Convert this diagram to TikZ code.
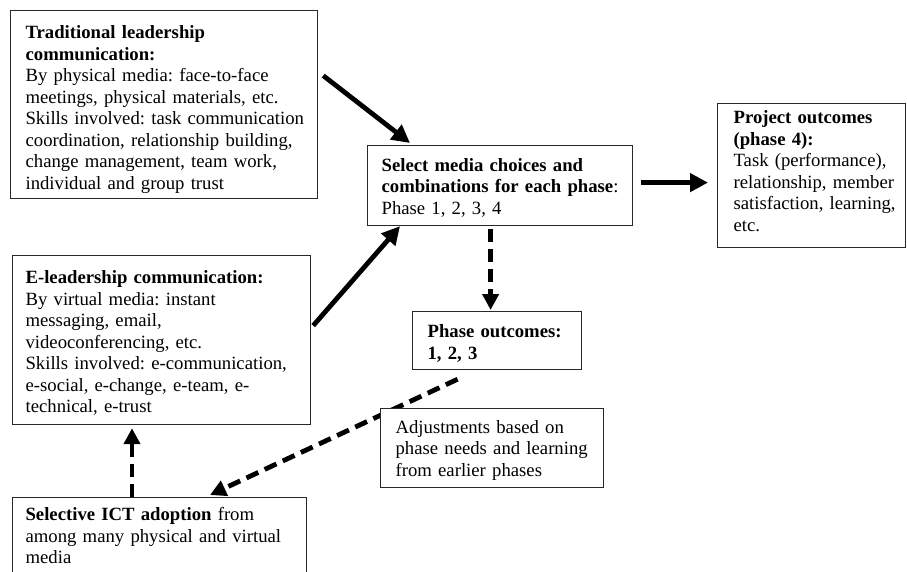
\documentclass[tikz,border=0pt]{standalone}
\usepackage{fontspec}
\setmainfont{Liberation Serif}
\usepackage{tikz}
\usetikzlibrary{arrows.meta}
\definecolor{box_gray}{RGB}{40,40,40}
\frenchspacing
\hyphenpenalty=10000
\exhyphenpenalty=10000
\newcommand\lift[1]{\rule{0pt}{#1}}
\newcommand\sink[1]{\rule[-#1]{0pt}{0pt}}

\begin{document}
\begin{tikzpicture}[x=1pt,y=-1pt]
    \tikzstyle{box}=[draw=box_gray, line width=1.2pt, fill=white, anchor=north west, align=left, inner ysep=3pt, font=\fontsize{18.7}{21.5}\selectfont]
    \tikzstyle{mainflow}=[-{Triangle[length=18pt,width=18pt]}, line width=4.8pt]
    \tikzstyle{phaseflow}=[-{Triangle[length=16pt,width=16pt]}, line width=4.8pt, dash pattern=on 13pt off 7pt]
    \useasboundingbox (0,0) rectangle (907,571);

    \node[box, inner xsep=15pt, text width=277pt, minimum width=307pt, minimum height=188pt] (A) at (10,10)
      {\lift{23pt}\textbf{Traditional leadership}\\ \textbf{communication:}\\ By physical media: face-to-face\\ meetings, physical materials, etc.\\ \mbox{Skills involved: task communication}\\ \mbox{coordination, relationship building,}\\ change management, team work,\\ individual and group trust};
    \node[box, inner xsep=14pt, text width=237pt, minimum width=265pt, minimum height=80pt] (B) at (367,145)
      {\lift{17pt}\textbf{Select media choices and}\\ \mbox{\textbf{combinations for each phase}:}\\ Phase 1, 2, 3, 4};
    \node[box, inner xsep=16pt, text width=156pt, minimum width=188pt, minimum height=144pt] (C) at (717,103)
      {\textbf{Project outcomes}\\ \textbf{(phase 4):}\\ Task (performance),\\ \mbox{relationship, member}\\ \mbox{satisfaction, learning,}\\ etc.\sink{9pt}};
    \node[box, inner xsep=13pt, text width=272pt, minimum width=298pt, minimum height=169pt] (D) at (12,255)
      {\lift{19pt}\textbf{E-leadership communication:}\\ By virtual media: instant\\ messaging, email,\\ videoconferencing, etc.\\ \mbox{Skills involved: e-communication,}\\ e-social, e-change, e-team, e-\\ technical, e-trust};
    \node[box, inner xsep=15pt, text width=139pt, minimum width=169pt, minimum height=58pt] (F) at (412,311)
      {\lift{19pt}\textbf{Phase outcomes:}\\ \textbf{1, 2, 3}};
    \node[box, inner xsep=13pt, text width=268pt, minimum width=294pt, minimum height=76pt] (E) at (12,497)
      {\textbf{Selective ICT adoption} from\\ \mbox{among many physical and virtual}\\ media};

    \path
     ([xshift=5pt,yshift=29pt]A.east) edge[mainflow] ([xshift=43pt,yshift=2pt]B.north west)
     ([xshift=2pt,yshift=14.5pt]D.east) edge[mainflow] ([xshift=33pt]B.south west)
     ([xshift=8pt,yshift=3pt]B.east) edge[mainflow] ([xshift=-9pt,yshift=-7pt]C.west)
     ([xshift=-9.5pt,yshift=-3pt]B.south) edge[phaseflow] ([xshift=-6.5pt,yshift=1pt]F.north)
     ([xshift=-39.5pt,yshift=-9pt]F.south) edge[phaseflow] ([xshift=198pt,yshift=2pt]E.north west)
     ([xshift=120pt]E.north west) edge[phaseflow] ([xshift=120pt,yshift=-3pt]D.south west)
     ;

    \node[box, inner xsep=15pt, text width=193pt, minimum width=223pt, minimum height=79pt] (G) at (380,408)
      {\lift{17pt}Adjustments based on\\ phase needs and learning\\ from earlier phases};
\end{tikzpicture}
\end{document}
